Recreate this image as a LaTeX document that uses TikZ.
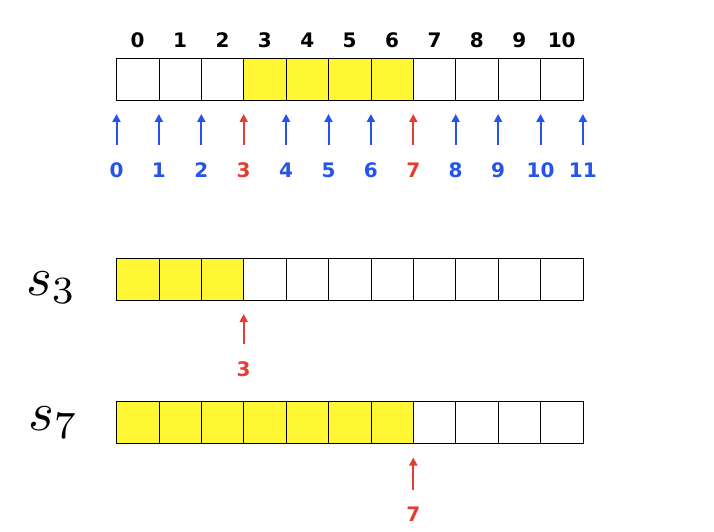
\documentclass[tikz,border=0pt]{standalone}
\usepackage{fontspec}
\setsansfont{DejaVu Sans}
\usepackage{tikz}
\usetikzlibrary{arrows.meta,positioning}

\definecolor{cellyellow}{RGB}{255,247,51}
\definecolor{ptrblue}{RGB}{38,84,232}
\definecolor{ptrred}{RGB}{226,62,50}

\begin{document}
\begin{tikzpicture}[x=1pt,y=-1pt,
  cell/.style={draw,line width=0.8pt,minimum width=42.4pt,minimum height=42pt,inner sep=0pt,outer sep=0pt},
  full/.style={cell,fill=cellyellow},
  idx/.style={font=\sffamily\bfseries\fontsize{20}{20}\selectfont,inner sep=0pt,anchor=base},
  seq/.style={inner sep=0pt,anchor=base west},
  ptr/.style={line width=2pt,-{Triangle[width=8pt,length=8pt]},shorten <=17pt,shorten >=14pt}]
\useasboundingbox (0,0) rectangle (714,532);

\foreach \i in {0,1,2,7,8,9,10} \node [cell] (a\i) at (137.7+42.4*\i,79) {};
\foreach \i in {3,...,6} \node [full] (a\i) at (137.7+42.4*\i,79) {};
\foreach \i in {0,...,10} \node [idx] (t\i) at (137.7+42.4*\i,48) {\i};
\foreach \i in {0,1,2,4,5,6,8,9,10,11}{
	\node [idx,text=ptrblue] (n\i) at (116.5+42.4*\i,177) {\i};
	\draw [ptr,ptrblue] (n\i.north) -- (n\i.north |- a0.south);
}
\foreach \i in {3,7}{
	\node [idx,text=ptrred] (n\i) at (116.5+42.4*\i,177) {\i};
	\draw [ptr,ptrred] (n\i.north) -- (n\i.north |- a0.south);
}

\node [seq] (s3) at (26,295) {\scalebox{5.5}{$s_3$}};
\foreach \i in {0,...,2} \node [full] (b\i) at (137.7+42.4*\i,279) {};
\foreach \i in {3,...,10} \node [cell] (b\i) at (137.7+42.4*\i,279) {};
\node [idx,text=ptrred] (r3) at (b3.west |- 0,376) {3};
\draw [ptr,ptrred] (r3.north) -- (r3.north |- b0.south);

\node [seq] (s7) at (28,430) {\scalebox{5.5}{$s_7$}};
\foreach \i in {0,...,6} \node [full] (c\i) at (137.7+42.4*\i,422.5) {};
\foreach \i in {7,...,10} \node [cell] (c\i) at (137.7+42.4*\i,422.5) {};
\node [idx,text=ptrred] (r7) at (c7.west |- 0,521.7) {7};
\draw [ptr,ptrred] (r7.north) -- (r7.north |- c0.south);
\end{tikzpicture}
\end{document}
